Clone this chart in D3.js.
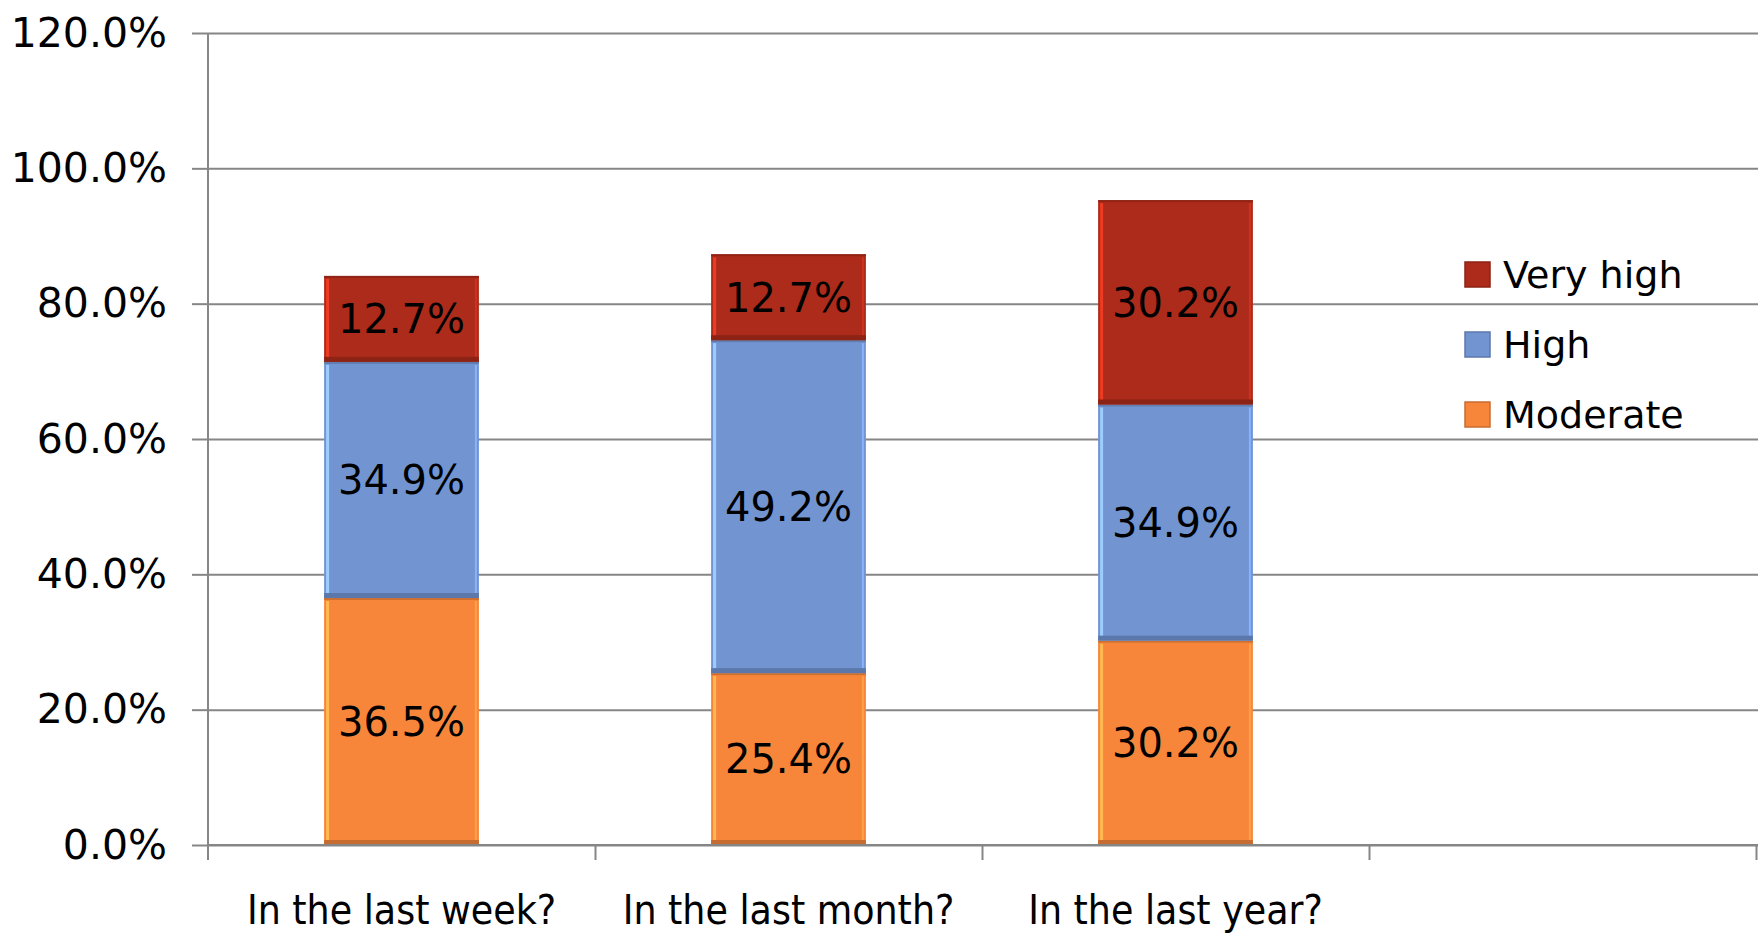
<!DOCTYPE html>
<html>
<head>
<meta charset="utf-8">
<script src="https://cdn.jsdelivr.net/npm/d3@7"></script>
<style>
  body { margin: 0; background: #fff; }
  svg { display: block; }
  .axis path, .axis line { stroke: #868686; stroke-width: 2px; }
  .grid line { stroke: #868686; stroke-width: 2px; }
  .grid path { display: none; }
</style>
</head>
<body>
<svg></svg>
<script>
// chart data
var categories = ["In the last week?", "In the last month?", "In the last year?"]
var seriesNames = ["Moderate", "High", "Very high"]
var moderate = [36.5, 25.4, 30.2]
var high = [34.9, 49.2, 34.9]
var veryHigh = [12.7, 12.7, 30.2]
var yTicks = [0, 20, 40, 60, 80, 100, 120]
var colors = ["#F7863B", "#7295D2", "#AD2B1A"]

var screen = {width: 1758, height: 937}
var plot = {left: 208, right: 1756, top: 33, bottom: 845}

var svg = d3.select("svg")
    .attr("width", screen.width)
    .attr("height", screen.height)

// table for the stack
var rows = categories.map(function(c, i) {
    return {cat: c, "Moderate": moderate[i], "High": high[i], "Very high": veryHigh[i]}
})
var stacked = d3.stack().keys(seriesNames)(rows)

// 4 slots on the axis, the last one stays empty (legend sits there)
var xScale = d3.scaleBand()
    .domain([0, 1, 2, 3])
    .range([plot.left, plot.right])
    .paddingInner(0.6)
    .paddingOuter(0.3)

var slotScale = d3.scaleLinear()
    .domain([0, 4])
    .range([plot.left, plot.right])

var yScale = d3.scaleLinear()
    .domain([0, 120])
    .range([plot.bottom, plot.top])

// gridlines
svg.append("g")
    .attr("class", "grid")
    .attr("transform", "translate(" + plot.left + ",0)")
    .call(d3.axisLeft(yScale).tickValues(yTicks).tickSize(-(screen.width - plot.left)).tickFormat(""))

// bars
var bw = xScale.bandwidth()
var layers = svg.append("g").selectAll("g")
    .data(stacked)
    .enter()
    .append("g")

layers.each(function(layer, li) {
    var g = d3.select(this)
    var col = d3.color(colors[li])
    var segs = g.selectAll("g").data(layer).enter().append("g")
    segs.append("rect")
        .attr("x", function(d, i) { return xScale(i) })
        .attr("y", function(d) { return yScale(d[1]) })
        .attr("width", bw)
        .attr("height", function(d) { return yScale(d[0]) - yScale(d[1]) })
        .attr("fill", colors[li])
    // bevel-ish edges
    segs.append("rect")
        .attr("x", function(d, i) { return xScale(i) + 2 })
        .attr("y", function(d) { return yScale(d[1]) + 3 })
        .attr("width", 3)
        .attr("height", function(d) { return Math.max(0, yScale(d[0]) - yScale(d[1]) - 7) })
        .attr("fill", col.brighter(0.9))
    segs.append("rect")
        .attr("x", function(d, i) { return xScale(i) + bw - 4 })
        .attr("y", function(d) { return yScale(d[1]) + 3 })
        .attr("width", 2)
        .attr("height", function(d) { return Math.max(0, yScale(d[0]) - yScale(d[1]) - 7) })
        .attr("fill", col.brighter(0.5))
    segs.append("rect")
        .attr("x", function(d, i) { return xScale(i) })
        .attr("y", function(d) { return yScale(d[0]) - 5 })
        .attr("width", bw)
        .attr("height", 5)
        .attr("fill", col.darker(0.6))
    segs.append("rect")
        .attr("x", function(d, i) { return xScale(i) })
        .attr("y", function(d) { return yScale(d[1]) })
        .attr("width", bw)
        .attr("height", 2)
        .attr("fill", col.darker(0.5))
    segs.append("text")
        .attr("x", function(d, i) { return xScale(i) + bw / 2 })
        .attr("y", function(d) { return (yScale(d[0]) + yScale(d[1])) / 2 })
        .attr("dy", "0.36em")
        .attr("text-anchor", "middle")
        .style("font-family", "'DejaVu Sans', sans-serif")
        .style("font-size", "40px")
        .style("fill", "#000")
        .text(function(d) { return (d[1] - d[0]).toFixed(1) + "%" })
})

// y axis
var yAxis = svg.append("g")
    .attr("class", "axis")
    .attr("transform", "translate(" + plot.left + ",0)")
    .call(d3.axisLeft(yScale).tickValues(yTicks).tickSize(16).tickPadding(25)
        .tickFormat(function(d) { return d.toFixed(1) + "%" }))
yAxis.select(".domain").attr("d", "M0," + plot.top + "V" + (plot.bottom + 15))
yAxis.selectAll("text")
    .style("font-family", "'DejaVu Sans', sans-serif")
    .style("font-size", "41px")
    .style("fill", "#000")

// x axis: ticks between slots
var xAxis = svg.append("g")
    .attr("class", "axis")
    .attr("transform", "translate(0," + plot.bottom + ")")
    .call(d3.axisBottom(slotScale).tickValues([1, 2, 3, 4]).tickSize(15).tickFormat(""))
xAxis.select(".domain").attr("d", "M" + plot.left + ",0H" + screen.width)

svg.append("g").selectAll("text")
    .data(categories)
    .enter()
    .append("text")
    .attr("x", function(d, i) { return xScale(i) + bw / 2 })
    .attr("y", 924)
    .attr("text-anchor", "middle")
    .style("font-family", "'DejaVu Sans Condensed', sans-serif")
    .style("font-size", "40.5px")
    .style("fill", "#000")
    .text(function(d) { return d })

// legend (top entry = top of stack)
var legendItems = seriesNames.slice().reverse()
var legend = svg.append("g")
    .attr("transform", "translate(1465,262)")
var li = legend.selectAll("g")
    .data(legendItems)
    .enter()
    .append("g")
    .attr("transform", function(d, i) { return "translate(0," + (i * 70) + ")" })
li.append("rect")
    .attr("width", 25)
    .attr("height", 25)
    .attr("fill", function(d) { return colors[seriesNames.indexOf(d)] })
    .attr("stroke", function(d) { return d3.color(colors[seriesNames.indexOf(d)]).darker(0.6) })
    .attr("stroke-width", 1.5)
li.append("text")
    .attr("x", 38)
    .attr("y", 12.5)
    .attr("dy", "0.36em")
    .style("font-family", "'DejaVu Sans', sans-serif")
    .style("font-size", "38px")
    .style("fill", "#000")
    .text(function(d) { return d })
</script>
</body>
</html>
